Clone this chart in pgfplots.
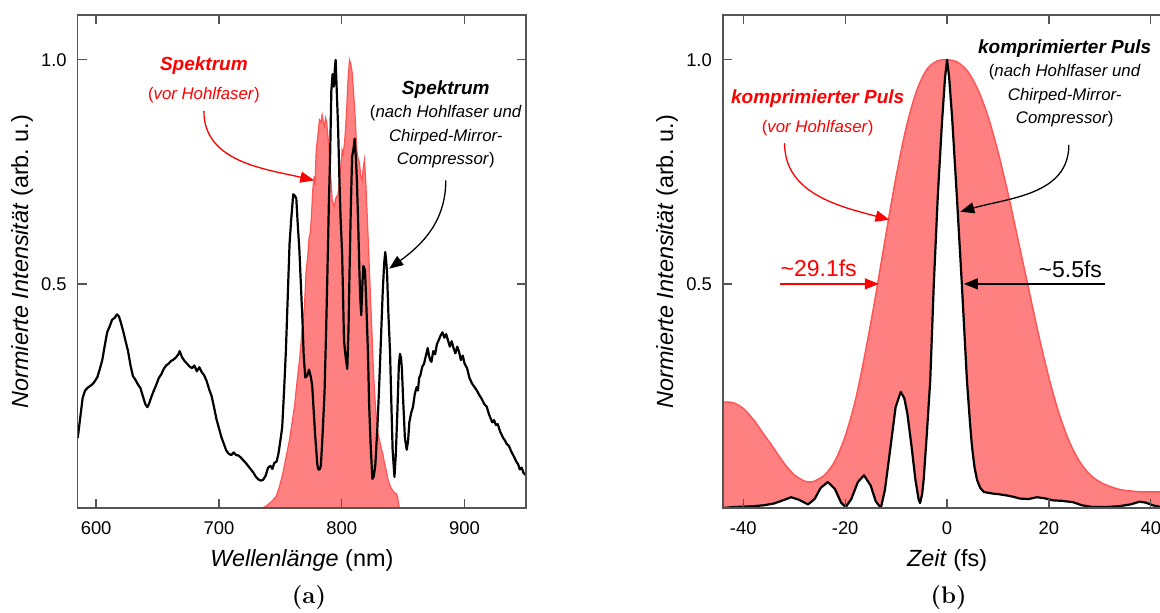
\documentclass[border=0pt]{standalone}
\usepackage{fontspec}
\setsansfont{Liberation Sans}
\usepackage{pgfplots}
\pgfplotsset{compat=1.18}
\usetikzlibrary{arrows.meta}

\definecolor{framegray}{RGB}{85,85,85}
\definecolor{fillred}{RGB}{255,128,128}
\definecolor{edgered}{RGB}{255,85,85}

\pgfplotsset{
  myaxis/.style={
    anchor=south west, scale only axis, width=224.15pt, height=246.5pt,
    ymin=0, ymax=1.1, ytick={0.5,1.0}, yticklabels={0.5,1.0},
    tick align=inside, major tick length=4.5pt,
    axis line style={draw=framegray, line width=0.65pt},
    every tick/.style={draw=framegray, line width=0.65pt},
    tick label style={font=\sffamily\fontsize{9.2}{10}\selectfont},
    /pgf/number format/assume math mode=true,
    yticklabel style={xshift=-2pt},
    xticklabel style={yshift=-3.5pt},
    label style={font=\sffamily\fontsize{11.7}{13}\selectfont},
    xlabel style={at={(axis description cs:0.5,-0.1055)}, anchor=center},
    ylabel style={at={(axis description cs:-0.1243,0.5)}, anchor=center},
    ylabel={\textit{Normierte Intensität} (arb.\ u.)},
    axis on top,
  },
}
\tikzset{
  annobold/.style={font=\sffamily\bfseries\itshape\fontsize{9.5}{11}\selectfont},
  annosub/.style={font=\sffamily\fontsize{8.4}{10}\selectfont},
  annobig/.style={font=\sffamily\fontsize{11.5}{13}\selectfont},
}

\pgfplotstableread{
x y
585 0.156
587 0.200
589 0.245
591 0.262
593 0.268
595 0.272
597 0.276
599 0.283
601 0.292
603 0.310
605 0.330
607 0.362
609 0.392
611 0.405
613 0.420
615 0.424
617 0.432
618.5 0.428
620 0.415
622 0.395
624 0.372
626 0.350
628 0.318
630 0.294
632 0.286
634 0.276
636 0.268
638 0.250
640 0.232
641.7 0.225
643 0.232
645 0.248
647 0.262
649 0.275
651 0.290
653 0.298
655 0.310
657 0.318
659 0.322
661 0.328
663 0.331
665 0.336
667 0.343
668 0.350
670 0.336
672 0.328
674 0.322
676 0.316
678 0.312
680 0.318
682 0.305
684 0.314
686 0.303
688 0.296
690 0.283
692 0.265
694 0.250
696 0.225
698 0.198
700 0.178
702 0.158
704 0.143
706 0.128
708 0.121
710 0.118
712 0.124
714 0.118
716 0.117
718 0.112
720 0.106
722 0.100
724 0.093
726 0.086
728 0.079
730 0.070
732 0.064
734 0.061
736 0.063
738 0.072
740 0.090
742 0.094
743.5 0.087
745 0.100
747 0.104
748.5 0.122
750 0.150
751.5 0.180
753 0.260
754.5 0.350
756 0.470
757.5 0.590
759 0.650
760.5 0.700
762 0.696
763 0.690
764 0.640
765.5 0.575
767 0.480
768 0.418
769 0.340
770.3 0.291
772 0.296
773.3 0.309
775 0.290
776 0.270
777.5 0.200
778.5 0.156
780 0.100
780.8 0.086
782 0.086
783 0.095
784.5 0.170
786 0.261
787.3 0.400
788.3 0.523
789.5 0.680
790.5 0.784
791.5 0.930
792.5 0.968
793.5 0.940
794.5 0.985
795 1.0
796 0.925
797 0.850
798 0.741
799 0.650
800.3 0.566
801 0.480
801.8 0.374
803 0.340
804.5 0.310
805.5 0.400
806.3 0.523
807.3 0.660
808.4 0.784
809.5 0.800
810.5 0.824
811.5 0.780
812.3 0.732
813.5 0.620
814.4 0.523
815.2 0.460
815.9 0.430
816.8 0.500
817.6 0.540
818.9 0.530
819.8 0.470
821.3 0.348
822.3 0.230
823.4 0.147
824.9 0.065
826 0.070
827.3 0.095
829 0.180
830.3 0.261
831.8 0.370
833.3 0.479
834.5 0.545
835.4 0.571
836.2 0.550
836.9 0.523
838 0.430
839.3 0.348
840.5 0.220
841.4 0.130
842.9 0.069
844 0.120
845.3 0.217
846.5 0.320
847.4 0.344
848.2 0.335
848.9 0.313
850 0.240
851.4 0.156
852.9 0.130
854 0.150
855 0.191
856.5 0.212
858 0.226
859.5 0.255
861 0.270
862 0.262
863 0.290
864 0.296
865.5 0.315
867 0.322
868.5 0.340
870 0.357
871 0.340
872 0.330
873 0.326
874.5 0.350
876 0.343
877.5 0.366
879 0.375
880.5 0.385
882 0.392
883.5 0.380
885 0.388
886.5 0.374
888 0.360
889.5 0.372
891 0.357
892.5 0.345
894 0.360
895.5 0.348
897 0.330
898.5 0.340
900 0.322
902 0.312
904 0.290
906 0.278
908 0.270
910 0.262
912 0.252
914 0.243
916 0.232
918 0.226
920 0.208
922.5 0.191
924 0.196
925.5 0.185
927 0.187
929 0.170
931.5 0.156
933 0.150
934.5 0.142
936 0.139
938 0.126
940.5 0.113
942 0.104
943.5 0.098
945 0.086
946.5 0.090
948 0.078
950 0.073
}\specnach

\pgfplotstableread{
x y
585 0
735 0
738.4 0.004
741 0.010
744 0.018
746.6 0.026
749 0.045
752 0.077
754 0.105
757.4 0.151
759.5 0.190
761.5 0.226
763.5 0.280
765.6 0.330
767.5 0.390
769.6 0.449
771 0.530
772.3 0.561
773.3 0.600
774.3 0.613
775.3 0.650
776.4 0.710
777.5 0.740
778.2 0.720
779.2 0.799
780.5 0.830
781.8 0.866
783 0.860
784 0.877
785 0.860
785.9 0.851
786.8 0.870
787.8 0.859
789 0.820
790 0.784
791 0.740
792.2 0.688
793 0.680
794 0.673
795 0.690
795.9 0.695
797 0.700
798.1 0.732
799.2 0.760
800.3 0.799
801.2 0.790
802.2 0.814
803.2 0.850
804.1 0.896
805.2 0.960
806.3 1.0
807.4 0.990
808.5 0.971
809.5 0.930
810.4 0.896
811.3 0.850
812.2 0.799
813.3 0.780
814.4 0.770
815.5 0.740
816.6 0.732
817.5 0.760
818.5 0.777
819.5 0.730
820.4 0.673
821.5 0.600
822.6 0.524
823.7 0.450
824.8 0.375
825.7 0.310
826.6 0.263
827.5 0.225
828.5 0.188
829.6 0.165
830.7 0.151
832 0.135
833.4 0.121
834.8 0.100
836.2 0.084
837.5 0.065
838.8 0.054
840 0.045
841.5 0.039
843 0.034
844.3 0.032
845.5 0.025
846.4 0.006
847 0
950 0
}\specvor

\pgfplotstableread{
x y
-44 0.236
-42 0.235
-40 0.222
-38 0.197
-36 0.165
-34 0.133
-32 0.100
-30 0.074
-28 0.060
-27 0.058
-26 0.060
-24 0.074
-22 0.105
-20 0.160
-18 0.240
-16 0.350
-14 0.475
-12 0.610
-10 0.740
-8 0.850
-6 0.930
-4 0.978
-2 0.997
0 1.0
2 0.995
4 0.975
6 0.935
8 0.875
10 0.795
12 0.700
14 0.595
16 0.490
18 0.385
20 0.290
22 0.210
24 0.148
26 0.104
28 0.075
30 0.058
32 0.048
34 0.041
36 0.038
38 0.036
40 0.036
42 0.036
44 0.036
}\pulsvor

\pgfplotstableread{
x y
-44 0.000
-42 0.002
-40 0.003
-38 0.004
-36 0.006
-34 0.010
-32 0.018
-30.6 0.024
-29 0.018
-27.3 0.008
-26 0.020
-24.8 0.045
-23.4 0.058
-22 0.042
-20.8 0.012
-19.9 0.002
-18.8 0.020
-17.5 0.058
-16.3 0.073
-15 0.050
-14 0.015
-13.0 0.000
-12.2 0.040
-11.1 0.136
-10.1 0.225
-9.1 0.259
-8.4 0.245
-7.8 0.211
-7.0 0.140
-6.2 0.062
-5.6 0.020
-5.3 0.011
-4.9 0.030
-4.6 0.062
-4.0 0.160
-3.3 0.285
-2.6 0.500
-1.8 0.700
-1.0 0.860
-0.4 0.960
0 1.0
0.4 0.962
1.0 0.870
1.9 0.700
2.9 0.500
3.9 0.285
4.5 0.190
4.9 0.136
5.4 0.090
5.9 0.062
6.5 0.045
7.2 0.036
8 0.034
9.1 0.032
10 0.031
11.7 0.028
13 0.025
14.3 0.021
16 0.020
17.6 0.024
19 0.022
20.8 0.017
22.5 0.016
24.7 0.013
26.5 0.006
28.6 0.002
31 0.002
33.8 0.004
36 0.008
37.8 0.014
39 0.012
40.4 0.006
42 0.002
44 0.000
}\pulsnach

\begin{document}
\begin{tikzpicture}
\path[use as bounding box] (0,0) rectangle (580pt,306.5pt);

% ---------------- (a) ----------------
\begin{axis}[myaxis, at={(38.85pt,52.5pt)},
  xmin=585, xmax=950, xtick={600,700,800,900}, xticklabels={600,700,800,900},
  xlabel={\textit{Wellenlänge} (nm)}]
\addplot[fill=fillred, draw=edgered, line width=0.6pt] table[x=x,y=y] {\specvor} \closedcycle;
\addplot[black, line width=1.1pt, line join=round] table[x=x,y=y] {\specnach};

\node[annobold, text=red] at (axis cs:687.7,0.986) {Spektrum};
\node[annosub, text=red] at (axis cs:687.7,0.921) {(\textit{vor Hohlfaser})};
\draw[red, line width=0.65pt, -{Triangle[length=7pt,width=5.5pt]}]
  (axis cs:687.7,0.886) to[out=-90, in=167] (axis cs:777.6,0.731);

\node[annobold] at (axis cs:884.7,0.934) {Spektrum};
\node[annosub] at (axis cs:884.7,0.880) {(\textit{nach Hohlfaser und}};
\node[annosub] at (axis cs:884.7,0.827) {\textit{Chirped-Mirror-}};
\node[annosub] at (axis cs:884.7,0.775) {\textit{Compressor})};
\draw[black, line width=0.65pt, -{Triangle[length=7pt,width=5.5pt]}]
  (axis cs:884.7,0.731) to[out=-90, in=36] (axis cs:838.6,0.534);
\end{axis}

% ---------------- (b) ----------------
\begin{axis}[myaxis, at={(361.45pt,52.5pt)},
  xmin=-44, xmax=44, xtick={-40,-20,0,20,40}, xticklabels={-40,-20,0,20,40},
  xlabel={\textit{Zeit} (fs)}]
\addplot[fill=fillred, draw=none] table[x=x,y=y] {\pulsvor} \closedcycle;
\addplot[fill=white, draw=none] table[x=x,y=y] {\pulsnach} \closedcycle;
\addplot[edgered, line width=0.75pt, smooth] table[x=x,y=y] {\pulsvor};
\addplot[black, line width=1.1pt, line join=round] table[x=x,y=y] {\pulsnach};

\node[annobold, text=red] at (axis cs:-25.4,0.913) {komprimierter Puls};
\node[annosub, text=red] at (axis cs:-25.4,0.848) {(\textit{vor Hohlfaser})};
\draw[red, line width=0.65pt, -{Triangle[length=7pt,width=5.5pt]}]
  (axis cs:-31.9,0.814) to[out=-90, in=165] (axis cs:-11.3,0.643);

\node[annobold] at (axis cs:23.1,1.024) {komprimierter Puls};
\node[annosub] at (axis cs:23.1,0.972) {(\textit{nach Hohlfaser und}};
\node[annosub] at (axis cs:23.1,0.918) {\textit{Chirped-Mirror-}};
\node[annosub] at (axis cs:23.1,0.868) {\textit{Compressor})};
\draw[black, line width=0.65pt, -{Triangle[length=7pt,width=5.5pt]}]
  (axis cs:23.9,0.810) to[out=-90, in=16] (axis cs:2.6,0.661);

\node[annobig, text=red] at (axis cs:-25.2,0.535) {\textasciitilde29.1fs};
\draw[draw=red, line width=0.7pt, -{Triangle[length=7pt,width=5.5pt]}]
  (axis cs:-32.7,0.5) -- (axis cs:-13.4,0.5);
\node[annobig] at (axis cs:24.2,0.533) {\textasciitilde5.5fs};
\draw[black, line width=0.7pt, -{Triangle[length=7pt,width=5.5pt]}]
  (axis cs:31.1,0.5) -- (axis cs:3.3,0.5);
\end{axis}

\node[font=\fontsize{12}{14}\selectfont] at (154.5pt,7.5pt) {\textbf{(a)}};
\node[font=\fontsize{12}{14}\selectfont] at (474.25pt,7.5pt) {\textbf{(b)}};
\end{tikzpicture}
\end{document}
